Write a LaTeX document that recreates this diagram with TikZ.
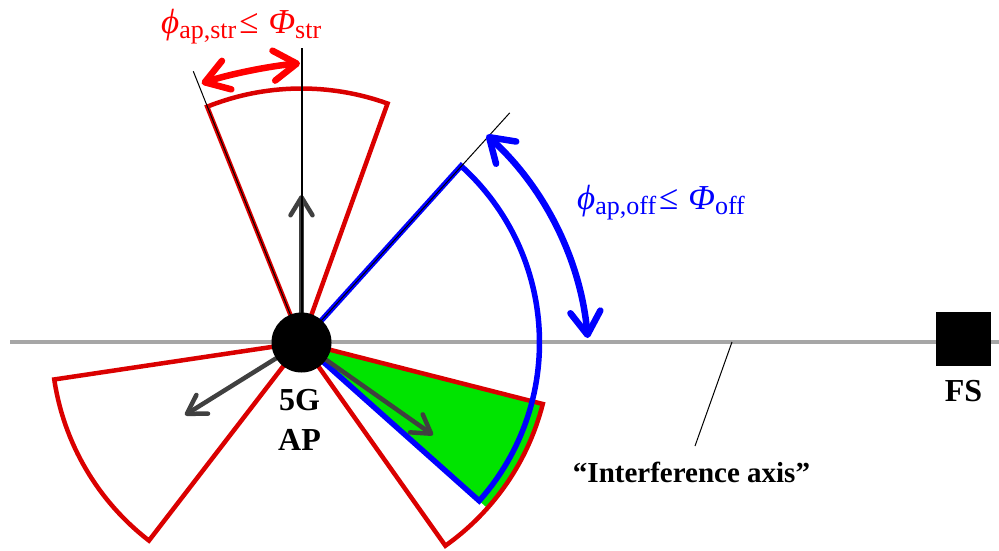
\documentclass[tikz,border=0pt]{standalone}
\usepackage{fontspec}
\setmainfont{Liberation Serif}
\usetikzlibrary{arrows.meta}
\definecolor{secred}{RGB}{218,0,0}
\definecolor{brred}{RGB}{255,0,0}
\definecolor{brblue}{RGB}{0,0,255}
\definecolor{brgreen}{RGB}{0,228,0}
\definecolor{axisgray}{RGB}{166,166,166}
\definecolor{arrgray}{RGB}{64,64,64}
\tikzset{
  sector/.style={draw=secred, line width=4.5pt, line join=miter},
  bluesector/.style={draw=brblue, line width=5.5pt, line join=miter},
  thinline/.style={draw=black, line width=1pt},
  dirarrow/.style={draw=arrgray, line width=4.5pt, -{Straight Barb[length=18pt,width=22pt,round]}},
  anglearrow/.style={line width=6.5pt, {Straight Barb[length=23pt,width=30pt,round]}-{Straight Barb[length=23pt,width=30pt,round]}},
  boldlabel/.style={font=\fontsize{32}{40}\selectfont\bfseries, inner sep=0pt},
}
\newcommand{\subtxt}[1]{\raisebox{-5pt}{\fontsize{26}{26}\selectfont #1}}
\begin{document}
\begin{tikzpicture}[x=1pt,y=1pt]
\useasboundingbox (0,0) rectangle (999,-550);
% interference axis
\draw[draw=axisgray, line width=4pt] (10,-342) coordinate (axL) -- (999,-342) coordinate (axR);
% AP position
\coordinate (c) at (301.5,-342.5);
% green overlap
\fill[brgreen, shift={(c)}] (0,0) -- (-41.7:249) arc[start angle=-41.7, end angle=-14.3, radius=249pt] -- cycle;
% red sectors
\draw[sector, shift={(c)}] (0,0) -- (70.2:254) arc[start angle=70.2, end angle=111.8, radius=254pt] -- cycle;
\draw[sector, shift={(c)}] (0,0) -- (188.5:250) arc[start angle=188.5, end angle=232.4, radius=250pt] -- cycle;
\draw[sector, shift={(c)}] (0,0) -- (-54.7:249) arc[start angle=-54.7, end angle=-14.3, radius=249pt] -- cycle;
% blue sector
\draw[bluesector, shift={(c)}] (0,0) -- (47.9:238) arc[start angle=47.9, end angle=-41.7, radius=238pt] -- cycle;
% direction arrows
\coordinate (tipU) at (301.5,-195);
\coordinate (tipL) at (185,-415);
\coordinate (tipR) at (433,-435);
\draw[dirarrow] (c) -- (tipU);
\draw[dirarrow] (c) -- (tipL);
\draw[dirarrow] (c) -- (tipR);
% reference lines
\coordinate (vtop) at (301.5,-48);
\draw[draw=black, line width=2pt] (c) -- (vtop);
\path (c) ++(111.75:292) coordinate (ltop);
\path (c) ++(47.8:310) coordinate (btop);
\draw[thinline] (c) -- (ltop);
\draw[thinline] (c) -- (btop);
% AP node
\node[circle, fill=black, minimum size=60pt, inner sep=0pt] (ap) at (c) {};
\node[boldlabel, anchor=base] (lab5g) at (299.5,-410) {5G};
\node[boldlabel, anchor=base] (labap) at (299.5,-450) {AP};
% FS
\node[fill=black, minimum width=55pt, minimum height=54pt, inner sep=0pt] (fs) at (963.5,-339) {};
\node[boldlabel, anchor=base] (fslabel) at (963.5,-401.5) {FS};
% interference axis label
\coordinate (leadtop) at (732,-342);
\coordinate (leadbot) at (695,-446);
\draw[thinline] (leadtop) -- (leadbot);
\node[font=\fontsize{29}{30}\selectfont\bfseries, inner sep=0pt, anchor=base] (axlabel) at (691.5,-482) {“Interference axis”};
% angle arrows
\coordinate (rA) at (201.7,-83.3);
\coordinate (rB) at (300,-63.3);
\draw[anglearrow, draw=brred] (rA) .. controls (230,-74) and (270,-66) .. (rB);
\coordinate (bc) at (277,-366);
\path (bc) ++(47.77:312) coordinate (bA);
\draw[anglearrow, draw=brblue] (bA) arc[start angle=47.77, end angle=5.14, radius=312pt] coordinate (bB);
% labels
\node[text=brred, inner sep=0pt, anchor=base west, font=\fontsize{35}{38}\selectfont] (strlabel) at (161,-33)
  {{\itshape ϕ}\subtxt{ap,str}\hspace{3pt}≤\hspace{10pt}{\itshape Φ}\subtxt{str}};
\node[text=brblue, inner sep=0pt, anchor=base west, font=\fontsize{35}{38}\selectfont] (offlabel) at (577,-209)
  {{\itshape ϕ}\subtxt{ap,off}\hspace{3pt}≤\hspace{10pt}{\itshape Φ}\subtxt{off}};
\end{tikzpicture}
\end{document}
